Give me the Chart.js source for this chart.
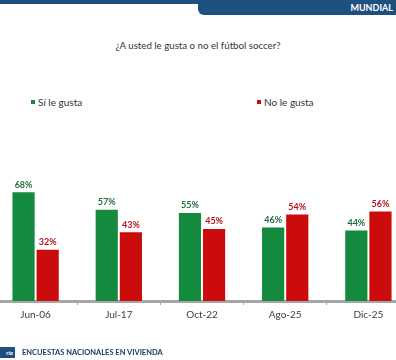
<!DOCTYPE html>
<html>
<head>
<meta charset="utf-8">
<script src="https://cdn.jsdelivr.net/npm/chart.js@4/dist/chart.umd.min.js"></script>
<style>
  html, body { margin: 0; padding: 0; background: #fff; }
  body { width: 396px; height: 360px; position: relative; overflow: hidden; font-family: Lato, "Open Sans", sans-serif; }
  #wrap { position: absolute; left: -6px; top: 0; width: 416px; height: 360px; }
  #topbar { position: absolute; left: 0; top: 0; width: 396px; height: 4px; background: #1d4f7f; }
  #tab { position: absolute; left: 198px; top: 0; width: 198px; height: 15px; background: #1d4f7f; border-bottom-left-radius: 6px; }
  #tab span { position: absolute; right: 3px; top: 2px; color: #fff; font-weight: bold; font-size: 9px; letter-spacing: 0; }
  #title { position: absolute; left: 0; width: 396px; top: 39px; text-align: center; font-size: 9.7px; color: #333; }
  .leg { position: absolute; top: 96px; font-size: 10px; color: #333; }
  .leg i { display: inline-block; width: 4px; height: 4px; margin-right: 3px; vertical-align: 2px; }
  #foot { position: absolute; left: 0; top: 347px; height: 11px; width: 15px; background: #1d4f7f; color: #fff; font-size: 6px; font-style: italic; font-weight: bold; line-height: 11px; text-align: right; padding-right: 2px; box-sizing: border-box; }
  #foottxt { position: absolute; left: 22px; top: 347px; font-size: 7.5px; font-weight: bold; color: #1d3a66; line-height: 11px; }
</style>
</head>
<body>
<div id="topbar"></div>
<div id="tab"><span>MUNDIAL</span></div>
<div id="title">¿A usted le gusta o no el fútbol soccer?</div>
<div id="legend"></div>
<div id="wrap"><canvas id="chart" width="416" height="360"></canvas></div>
<div id="foot">ría</div>
<div id="foottxt">ENCUESTAS NACIONALES EN VIVIENDA</div>
<script>
// values
var periods = ["Jun-06", "Jul-17", "Oct-22", "Ago-25", "Dic-25"];
var siGusta = [68, 57, 55, 46, 44];
var noGusta = [32, 43, 45, 54, 56];
var seriesNames = ["Sí le gusta", "No le gusta"];
var barColors = ["#148a3e", "#cc0c0c"];
var labelColors = ["#1e6e3c", "#b3141c"];

// legend (html, spread out like the original)
var legendPos = [31, 257];
var legendDiv = document.getElementById("legend");
for (let i = 0; i < seriesNames.length; i++) {
    var d = document.createElement("div");
    d.className = "leg";
    d.style.left = legendPos[i] + "px";
    d.innerHTML = '<i style="background:' + barColors[i] + '"></i>' + seriesNames[i];
    legendDiv.appendChild(d);
}

// percent labels above each bar
const valueLabels = {
    id: "valueLabels",
    afterDatasetsDraw(chart) {
        const ctx = chart.ctx;
        ctx.save();
        ctx.font = "bold 9px Lato, sans-serif";
        ctx.textAlign = "center";
        ctx.textBaseline = "bottom";
        chart.data.datasets.forEach(function (ds, i) {
            chart.getDatasetMeta(i).data.forEach(function (bar, j) {
                ctx.fillStyle = labelColors[i];
                ctx.fillText(ds.data[j] + "%", bar.x, bar.y - 3);
            });
        });
        ctx.restore();
    }
};

new Chart(document.getElementById("chart"), {
    type: "bar",
    data: {
        labels: periods,
        datasets: [
            { label: seriesNames[0], data: siGusta, backgroundColor: barColors[0] },
            { label: seriesNames[1], data: noGusta, backgroundColor: barColors[1] }
        ]
    },
    options: {
        responsive: false,
        animation: false,
        events: [],
        layout: { padding: { top: 141, bottom: 35, left: 0, right: 0 } },
        categoryPercentage: 0.58,
        barPercentage: 0.92,
        plugins: { legend: { display: false }, tooltip: { enabled: false } },
        scales: {
            x: {
                grid: { display: true, drawOnChartArea: false, drawTicks: true, tickLength: 4, color: "#a6a6a6", lineWidth: 1 },
                border: { display: true, color: "#a6a6a6", width: 3 },
                ticks: { color: "#404040", font: { family: "Lato", size: 10 }, padding: 4 }
            },
            y: {
                display: false,
                min: 0,
                max: 100
            }
        }
    },
    plugins: [valueLabels]
});
</script>
</body>
</html>
